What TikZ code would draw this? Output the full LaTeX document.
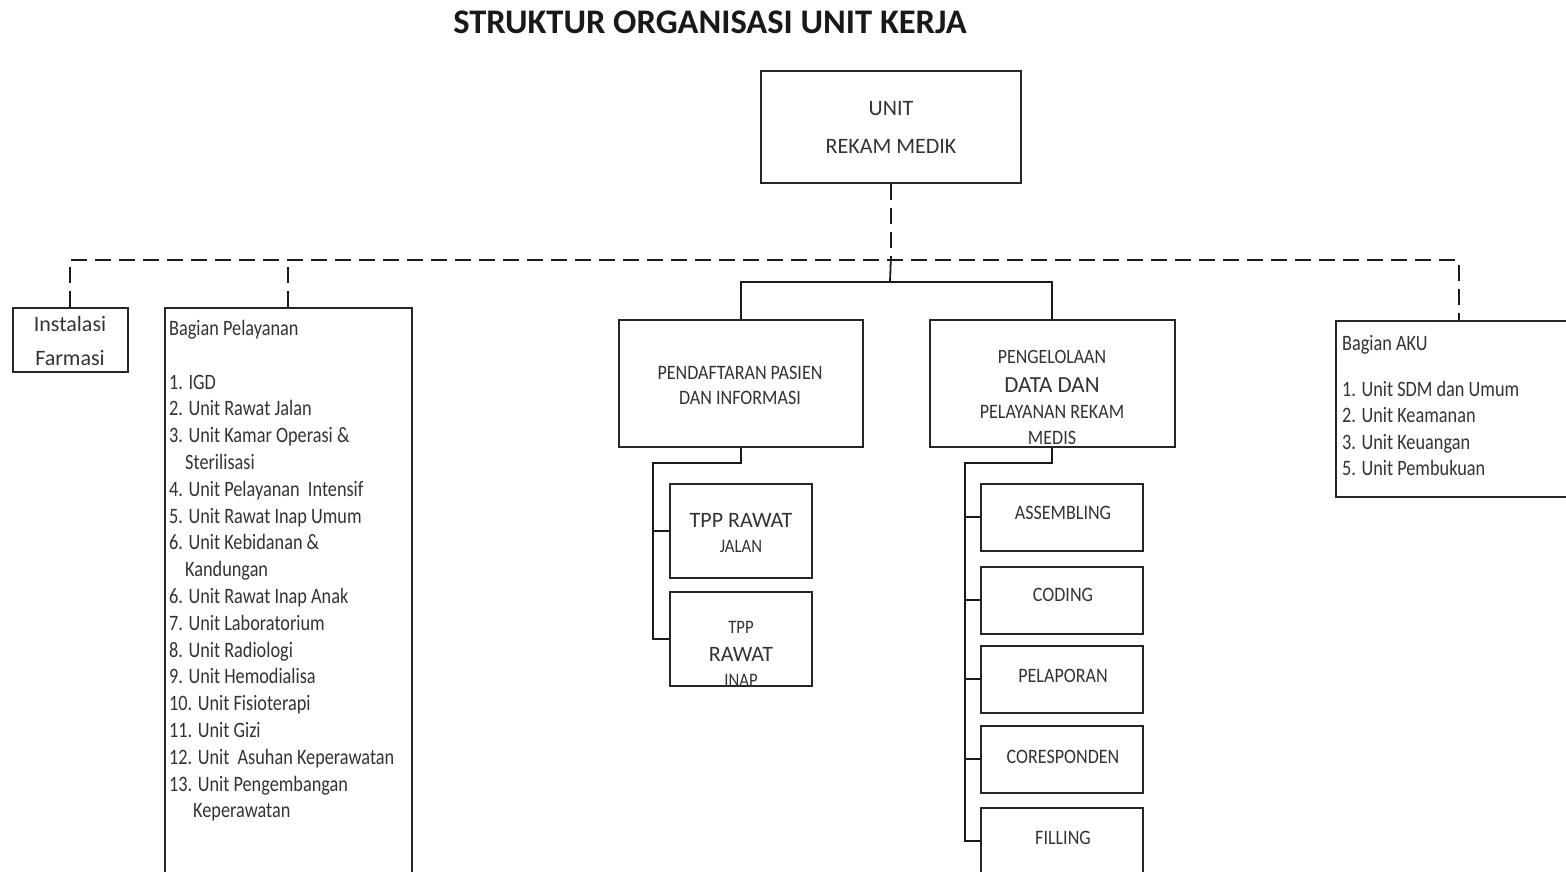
\documentclass[tikz,border=0pt]{standalone}
\usepackage{fontspec}
\setmainfont{Carlito}
\newfontfamily\condf[FakeStretch=0.83]{Carlito}
\newfontfamily\midf[FakeStretch=0.88]{Carlito}
\begin{document}
\begin{tikzpicture}[x=1pt,y=-1pt,
  box/.style={draw=black!85,line width=1.6pt,fill=white,inner sep=0pt,anchor=north west},
  lbl/.style={text=black!80,inner sep=0pt,align=center},
  dl/.style={draw=black!90,line width=2pt,dash pattern=on 16pt off 8pt},
  sl/.style={draw=black!90,line width=1.8pt}]
\useasboundingbox (0,0) rectangle (1566,872);
% title
\node[lbl,text=black!90,font=\bfseries\fontsize{34.5}{38}\selectfont] (title) at (710,22) {STRUKTUR ORGANISASI UNIT KERJA};
% boxes
\node[box,minimum width=260pt,minimum height=112pt] (top) at (760,70) {};
\node[box,minimum width=115pt,minimum height=64pt] (farmasi) at (12,307) {};
\node[box,minimum width=247pt,minimum height=580pt] (pel) at (164,307) {};
\node[box,minimum width=246pt,minimum height=176pt] (aku) at (1335,320) {};
\node[box,minimum width=244pt,minimum height=127pt] (pend) at (618,319) {};
\node[box,minimum width=245pt,minimum height=127pt] (peng) at (929,319) {};
\node[box,minimum width=142pt,minimum height=94pt] (tppj) at (669,483) {};
\node[box,minimum width=142pt,minimum height=94pt] (tppi) at (669,591) {};
\node[box,minimum width=162pt,minimum height=67pt] (asm) at (980,483) {};
\node[box,minimum width=162pt,minimum height=67pt] (cod) at (980,566) {};
\node[box,minimum width=162pt,minimum height=67pt] (lap) at (980,645) {};
\node[box,minimum width=162pt,minimum height=67pt] (cor) at (980,725) {};
\node[box,minimum width=162pt,minimum height=67pt] (fil) at (980,807) {};
% texts
\node[lbl,font=\fontsize{22}{38}\selectfont] (toptxt) at (891,127) {UNIT\\REKAM MEDIK};
\node[lbl,font=\fontsize{22}{34}\selectfont] (farmtxt) at (70,341) {Instalasi\\Farmasi};
\node[lbl,anchor=north west,align=left,font=\condf\fontsize{22}{26.8}\selectfont] (peltxt) at (169,320)
 {Bagian Pelayanan\\[26.8pt]
  1. IGD\\
  2. Unit Rawat Jalan\\
  3. Unit Kamar Operasi \&\\
  \hspace*{16pt}Sterilisasi\\
  4. Unit Pelayanan\ \ Intensif\\
  5. Unit Rawat Inap Umum\\
  6. Unit Kebidanan \&\\
  \hspace*{16pt}Kandungan\\
  6. Unit Rawat Inap Anak\\
  7. Unit Laboratorium\\
  8. Unit Radiologi\\
  9. Unit Hemodialisa\\
  10. Unit Fisioterapi\\
  11. Unit Gizi\\
  12. Unit\ \ Asuhan Keperawatan\\
  13. Unit Pengembangan\\
  \hspace*{24pt}Keperawatan};
\node[lbl,anchor=north west,align=left,font=\condf\fontsize{22}{26.3}\selectfont] (akutxt) at (1342,335)
 {Bagian AKU\\[20pt]
  1. Unit SDM dan Umum\\
  2. Unit Keamanan\\
  3. Unit Keuangan\\
  5. Unit Pembukuan};
\node[lbl,font=\midf\fontsize{20.5}{25}\selectfont] (pendtxt) at (740,385) {PENDAFTARAN PASIEN\\DAN INFORMASI};
\node[lbl,font=\midf\fontsize{20.3}{27}\selectfont] at (1052,357) {PENGELOLAAN};
\node[lbl,font=\fontsize{23}{27}\selectfont] at (1052,385) {DATA DAN};
\node[lbl,font=\midf\fontsize{20.5}{27}\selectfont] at (1052,412) {PELAYANAN REKAM};
\node[lbl,font=\midf\fontsize{20.5}{27}\selectfont] at (1052,438) {MEDIS};
\node[lbl,font=\fontsize{22}{26}\selectfont] at (741,520) {TPP RAWAT};
\node[lbl,font=\midf\fontsize{19}{26}\selectfont] at (741,546) {JALAN};
\node[lbl,font=\midf\fontsize{19}{27}\selectfont] at (741,627) {TPP};
\node[lbl,font=\fontsize{22}{27}\selectfont] at (741,654) {RAWAT};
\node[lbl,font=\midf\fontsize{19}{27}\selectfont] at (741,680) {INAP};
\node[lbl,font=\midf\fontsize{20.5}{27}\selectfont] at (1063,513) {ASSEMBLING};
\node[lbl,font=\midf\fontsize{20.5}{27}\selectfont] at (1063,595) {CODING};
\node[lbl,font=\midf\fontsize{20.5}{27}\selectfont] at (1063,676) {PELAPORAN};
\node[lbl,font=\midf\fontsize{20.5}{27}\selectfont] at (1063,757) {CORESPONDEN};
\node[lbl,font=\midf\fontsize{20.5}{27}\selectfont] at (1063,838) {FILLING};
% connectors
\coordinate (hl) at (890,260);
\coordinate (hs) at (890,282);
\coordinate (ps) at (653,463);
\coordinate (gs) at (965,463);
\draw[dl] (top.south) -- (top.south |- hl);
\draw[dl] (farmasi.north) -- (farmasi.north |- hl) -- (aku.north |- hl) -- (aku.north);
\draw[dl] (pel.north) -- (pel.north |- hl);
\draw[sl] (top.south |- hl) -- (hs);
\draw[sl] (pend.north) |- (hs) -| (peng.north);
\draw[sl] (pend.south) |- (ps) |- (tppi.west);
\draw[sl] (ps |- tppj.west) -- (tppj.west);
\draw[sl] (peng.south) |- (gs) |- (fil.west);
\draw[sl] (gs |- asm.west) -- (asm.west);
\draw[sl] (gs |- cod.west) -- (cod.west);
\draw[sl] (gs |- lap.west) -- (lap.west);
\draw[sl] (gs |- cor.west) -- (cor.west);
\end{tikzpicture}
\end{document}
